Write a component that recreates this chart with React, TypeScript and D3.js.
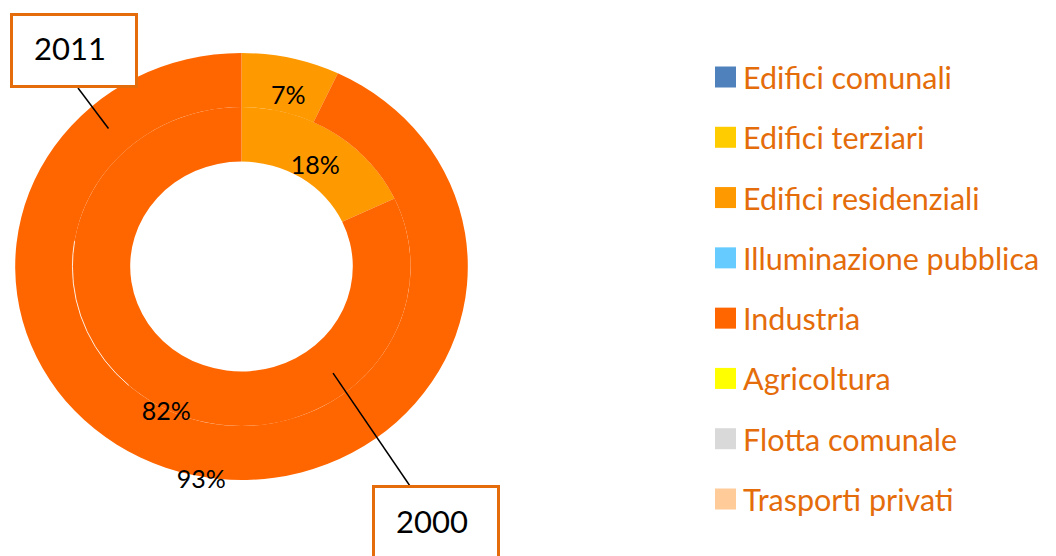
import * as d3 from "d3";

const WIDTH = 1056;
const HEIGHT = 556;

const categories = [
  "Edifici comunali",
  "Edifici terziari",
  "Edifici residenziali",
  "Illuminazione pubblica",
  "Industria",
  "Agricoltura",
  "Flotta comunale",
  "Trasporti privati",
];
const colors = ["#4F81BD", "#FFCC00", "#FF9900", "#66CCFF", "#FF6600", "#FFFF00", "#D9D9D9", "#FFCC99"];
const share2011 = [0, 0, 7, 0, 93, 0, 0, 0];
const share2000 = [0, 0, 18, 0, 82, 0, 0, 0];

// chart geometry (the original is a touch wider than tall)
const CX = 241.5;
const CY = 266.5;
const SX = 1.06;
const HOLE = 105;
const MID = 159.5;
const OUTER = 213.5;

const FONT = "Lato, 'Open Sans', sans-serif";
const ORANGE_TEXT = "#E46C0A";

type Ring = { year: string; values: number[]; r0: number; r1: number };

const rings: Ring[] = [
  { year: "2000", values: share2000, r0: HOLE, r1: MID },
  { year: "2011", values: share2011, r0: MID, r1: OUTER },
];

function polar(angle: number, r: number) {
  return { x: CX + Math.sin(angle) * r * SX, y: CY - Math.cos(angle) * r };
}

export default function App() {
  const pie = d3.pie<number>().sort(null).value((d) => d);
  const color = d3.scaleOrdinal<string, string>().domain(categories).range(colors);
  const legendY = d3.scalePoint<string>().domain(categories).range([77, 499]);

  const a2011 = polar((317.7 * Math.PI) / 180, (MID + OUTER) / 2);
  const a2000 = polar((141 * Math.PI) / 180, (HOLE + MID) / 2 + 5);

  const layers = rings.map((ring) => ({
    ring,
    arc: d3.arc<d3.PieArcDatum<number>>().innerRadius(ring.r0).outerRadius(ring.r1),
    slices: pie(ring.values),
  }));

  return (
    <svg
      width={WIDTH}
      height={HEIGHT}
      viewBox={`0 0 ${WIDTH} ${HEIGHT}`}
      style={{ position: "absolute", left: 0, top: 0, background: "#fff" }}
    >
      <g transform={`translate(${CX},${CY}) scale(${SX},1)`}>
        {layers.map(({ ring, arc, slices }) =>
          slices.map((s, i) => <path key={ring.year + i} d={arc(s) || ""} fill={color(categories[i])} />)
        )}
        <circle
          r={MID}
          fill="none"
          stroke="#fff"
          strokeWidth={0.8}
          strokeDasharray={`${MID * 1.0} ${MID * 5.28}`}
          strokeDashoffset={-MID * 2.3}
        />
      </g>
      {layers.map(({ ring, slices }) =>
        slices.map((s, i) => {
          const v = ring.values[i];
          if (!v) return null;
          const mid = (s.startAngle + s.endAngle) / 2;
          // big slices get their label near the outer rim, nudged back toward the start
          const r = v > 50 ? ring.r1 + 1 : (ring.r0 + ring.r1) / 2 - 8;
          const p = polar(mid + (v > 50 ? -(100 - v) * 0.006 : 0.03), r);
          return (
            <text
              key={`l${ring.year}${i}`}
              x={p.x}
              y={p.y}
              textAnchor="middle"
              dominantBaseline="central"
              fontFamily={FONT}
              fontSize={25}
              fill="#000"
            >
              {v}%
            </text>
          );
        })
      )}

      {/* callouts */}
      <line x1={78} y1={88} x2={a2011.x} y2={a2011.y} stroke="#000" strokeWidth={1.5} />
      <rect x={11.5} y={14.5} width={125} height={72} fill="#fff" stroke={ORANGE_TEXT} strokeWidth={3} />
      <text x={70} y={48} textAnchor="middle" dominantBaseline="central" fontFamily={FONT} fontSize={31}>
        2011
      </text>
      <line x1={410} y1={486} x2={a2000.x} y2={a2000.y} stroke="#000" strokeWidth={1.5} />
      <rect x={373.5} y={486.5} width={125} height={80} fill="#fff" stroke={ORANGE_TEXT} strokeWidth={3} />
      <text x={432} y={521} textAnchor="middle" dominantBaseline="central" fontFamily={FONT} fontSize={31}>
        2000
      </text>

      {/* legend */}
      {categories.map((c) => (
        <g key={c} transform={`translate(715,${legendY(c)})`}>
          <rect x={0} y={-10.5} width={21} height={21} fill={color(c)} />
          <text x={28} y={0} dominantBaseline="central" fontFamily={FONT} fontSize={30.5} fill={ORANGE_TEXT}>
            {c}
          </text>
        </g>
      ))}
    </svg>
  );
}
